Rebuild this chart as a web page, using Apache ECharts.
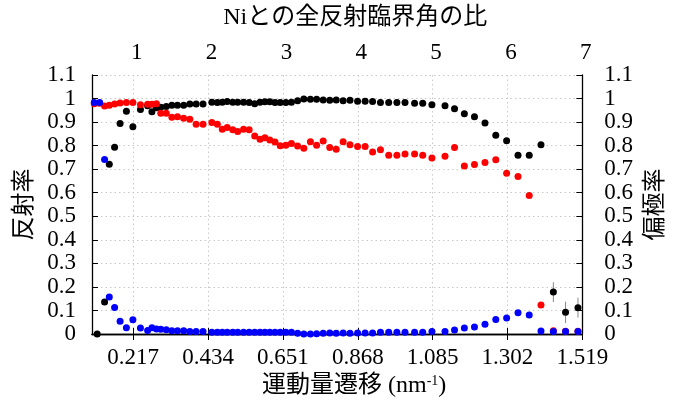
<!DOCTYPE html>
<html>
<head>
<meta charset="utf-8">
<script src="https://cdn.jsdelivr.net/npm/echarts@6/dist/echarts.min.js"></script>
<style>html,body{margin:0;padding:0;background:#fff;}#c{width:676px;height:403px;}</style>
</head>
<body>
<div id="c"></div>
<script>
// momentum transfer (nm^-1)
const q = [0.1043,0.1128,0.1199,0.1342,0.1478,0.1632,0.1791,0.1974,0.2162,0.2381,
0.2589,0.2714,0.2845,0.2970,0.3130,0.3292,0.3455,0.3634,0.3813,0.3996,
0.4195,0.4451,0.4611,0.4753,0.4896,0.5058,0.5200,0.5371,0.5533,0.5693,
0.5847,0.5989,0.6131,0.6282,0.6433,0.6596,0.6758,0.6937,0.7117,0.7308,
0.7487,0.7678,0.7869,0.8056,0.8256,0.8455,0.8675,0.8894,0.9110,0.9338,
0.9577,0.9814,1.0050,1.0327,1.0563,1.0830,1.1209,1.1485,1.1770,1.2063,
1.2368,1.2681,1.2995,1.3325,1.3650,1.3991,1.4350,1.4703,1.5063];
// black points (reflectivity)
const blackVals = [null,0.0,null,0.136,0.721,0.793,0.894,0.946,0.880,0.953,
0.969,0.944,0.961,0.963,0.966,0.971,0.971,0.971,0.977,0.977,
0.977,0.984,0.983,0.984,0.987,0.984,0.984,0.984,0.983,0.978,
0.984,0.986,0.986,0.983,0.983,0.983,0.984,0.991,0.998,0.997,
0.997,0.994,0.993,0.994,0.991,0.993,0.989,0.989,0.987,0.983,
0.983,0.983,0.983,0.980,0.980,0.974,0.969,0.957,0.935,0.923,
0.896,0.844,0.821,0.759,0.759,0.804,0.178,0.092,0.112];
const blackErr = [null,null,null,null,null,null,null,null,null,null,
null,null,null,null,null,null,null,null,null,null,
null,null,null,null,null,null,null,null,null,null,
null,null,null,null,null,null,null,null,null,null,
null,null,null,null,null,null,null,null,null,null,
null,null,null,null,null,null,null,null,null,null,
null,null,null,null,null,null,0.042,0.045,0.042];
// red points (polarization)
const redVals = [0.978,null,0.980,0.968,0.971,0.977,0.981,0.983,0.983,0.974,
0.976,0.976,0.978,0.938,0.938,0.921,0.923,0.916,0.912,0.891,
0.891,0.898,0.891,0.870,0.877,0.867,0.860,0.870,0.867,0.841,
0.827,0.833,0.824,0.815,0.799,0.802,0.809,0.798,0.789,0.817,
0.802,0.820,0.792,0.785,0.816,0.804,0.796,0.796,0.773,0.782,
0.759,0.759,0.764,0.765,0.759,0.747,0.755,0.792,0.713,0.720,
0.728,0.740,0.683,0.669,0.588,0.123,0.014,0.012,0.012];
// blue points (reflectivity)
const blueVals = [0.983,null,0.983,0.741,0.157,0.113,0.054,0.027,0.061,0.025,
0.015,0.027,0.021,0.020,0.018,0.014,0.014,0.014,0.011,0.011,
0.011,0.007,0.007,0.007,0.007,0.007,0.007,0.007,0.007,0.007,
0.007,0.007,0.007,0.007,0.007,0.007,0.007,0.003,0.0,0.0,
0.001,0.003,0.004,0.003,0.004,0.003,0.004,0.004,0.004,0.007,
0.007,0.007,0.007,0.007,0.007,0.011,0.011,0.017,0.025,0.030,
0.041,0.062,0.068,0.090,0.081,0.013,0.011,0.011,0.011];
const qTicks = [0.217,0.434,0.651,0.868,1.085,1.302,1.519];
const ratioTicks = [1,2,3,4,5,6,7];
const qMin = 0.0977, qMax = 1.519;
const ratioMin = 0.45, ratioMax = 7;

const pairs = vals => q.map((x,i)=> vals[i]==null ? null : [x, vals[i]]).filter(d=>d);
const errData = q.map((x,i)=> blackErr[i]==null ? null : [x, blackVals[i]-blackErr[i], blackVals[i]+blackErr[i]]).filter(d=>d);

const FONT = "'Liberation Serif', 'Noto Sans CJK JP', serif";
const lbl = {fontFamily: FONT, fontSize: 23, color: '#000'};
const axisLine = {show: true, lineStyle: {color: '#000', width: 1.3}};
const tick = {show: true, inside: true, length: 6, lineStyle: {color: '#000'}};
const grid = {show: true, lineStyle: {type: [1.5, 3], color: '#c8c8c8', width: 1}};

const chart = echarts.init(document.getElementById('c'));
chart.setOption({
  animation: false,
  grid: {left: 92, right: 85, top: 75, bottom: 69},
  xAxis: [
    {type: 'value', position: 'bottom', min: qMin, max: qMax,
     name: '運動量遷移 (nm{sup|-1})', nameLocation: 'middle', nameGap: 38,
     nameTextStyle: Object.assign({}, lbl, {fontSize: 24, padding: [0,0,0,34], rich: {sup: {fontFamily: FONT, fontSize: 14, verticalAlign: 'top', padding: [0,0,10,0]}}}),
     axisLine: axisLine, axisTick: Object.assign({customValues: qTicks}, tick),
     axisLabel: Object.assign({customValues: qTicks, margin: 12, formatter: v => v.toFixed(3)}, lbl),
     splitLine: grid},
    {type: 'value', position: 'top', min: ratioMin, max: ratioMax,
     name: 'Niとの全反射臨界角の比', nameLocation: 'middle', nameGap: 45,
     nameTextStyle: Object.assign({}, lbl, {fontSize: 24, padding: [0,0,0,36]}),
     axisLine: axisLine, axisTick: Object.assign({customValues: ratioTicks}, tick),
     axisLabel: Object.assign({customValues: ratioTicks, margin: 11, padding: [0,0,0,7]}, lbl),
     splitLine: {show: false}}
  ],
  yAxis: [
    {type: 'value', position: 'left', min: 0, max: 1.1, interval: 0.1,
     name: '反射率', nameLocation: 'middle', nameRotate: 90, nameGap: 55,
     nameTextStyle: Object.assign({}, lbl, {fontSize: 24}),
     axisLine: axisLine, axisTick: tick,
     axisLabel: Object.assign({margin: 16}, lbl), splitLine: grid},
    {type: 'value', position: 'right', min: 0, max: 1.1, interval: 0.1,
     name: '偏極率', nameLocation: 'middle', nameRotate: 90, nameGap: 58,
     nameTextStyle: Object.assign({}, lbl, {fontSize: 24}),
     axisLine: axisLine, axisTick: tick,
     axisLabel: Object.assign({margin: 22}, lbl), splitLine: {show: false}}
  ],
  series: [
    {type: 'custom', xAxisIndex: 0, yAxisIndex: 0, data: errData, z: 1,
     renderItem: (params, api) => {
       const a = api.coord([api.value(0), api.value(1)]);
       const b = api.coord([api.value(0), api.value(2)]);
       return {type: 'line', shape: {x1: a[0], y1: a[1], x2: b[0], y2: b[1]}, style: {stroke: '#888', lineWidth: 1}};
     }},
    {type: 'scatter', name: 'black', xAxisIndex: 0, yAxisIndex: 0, data: pairs(blackVals), symbolSize: 7, itemStyle: {color: '#000', opacity: 1}},
    {type: 'scatter', name: 'red', xAxisIndex: 0, yAxisIndex: 1, data: pairs(redVals), symbolSize: 7, itemStyle: {color: '#ff0000', opacity: 1}},
    {type: 'scatter', name: 'blue', xAxisIndex: 0, yAxisIndex: 0, data: pairs(blueVals), symbolSize: 7, itemStyle: {color: '#0000ff', opacity: 1}}
  ]
});
</script>
</body>
</html>
